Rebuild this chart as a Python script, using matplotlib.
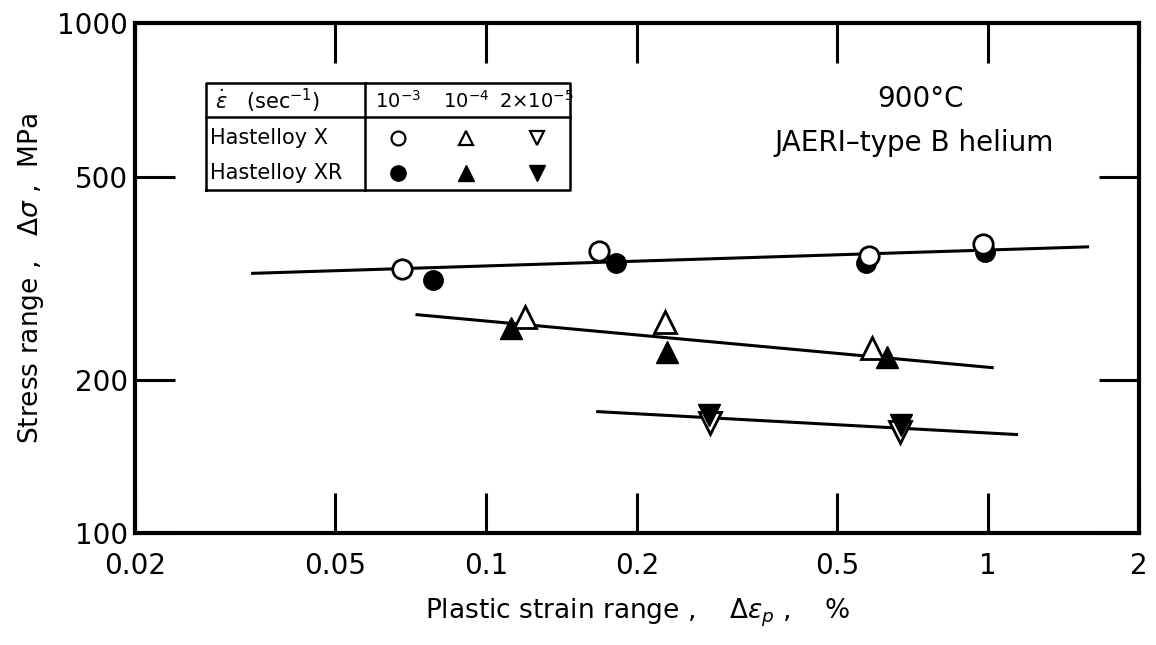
import numpy as np
import matplotlib.pyplot as plt
from matplotlib.ticker import FixedLocator, FixedFormatter, NullLocator

# Hastelloy X (open) and Hastelloy XR (filled), plastic strain range % vs stress range MPa
x_open_circ = [0.068, 0.168, 0.580, 0.977]
y_open_circ = [329, 358, 350, 369]
x_fill_circ = [0.0785, 0.182, 0.572, 0.986]
y_fill_circ = [314, 339, 339, 356]

x_open_up = [0.1197, 0.227, 0.588]
y_open_up = [265, 259, 231]
x_fill_up = [0.112, 0.230, 0.630]
y_fill_up = [252, 226, 221]

x_open_dn = [0.279, 0.668]
y_open_dn = [164, 158]
x_fill_dn = [0.278, 0.672]
y_fill_dn = [170, 163]

# fitted lines (end points)
line1_x = [0.0343, 1.58]
line1_y = [323, 364]
line2_x = [0.0729, 1.02]
line2_y = [268, 211]
line3_x = [0.167, 1.14]
line3_y = [173, 156]

xticks = [0.02, 0.05, 0.1, 0.2, 0.5, 1, 2]
xlabels = ["0.02", "0.05", "0.1", "0.2", "0.5", "1", "2"]
yticks = [100, 200, 500, 1000]
ylabels = ["100", "200", "500", "1000"]

fig = plt.figure(figsize=(11.56, 6.45), dpi=100)
ax = fig.add_axes([0.1168, 0.1736, 0.8685, 0.7907])
ax.set_xscale("log")
ax.set_yscale("log")
ax.set_xlim(0.02, 2)
ax.set_ylim(100, 1000)

for lx, ly in [(line1_x, line1_y), (line2_x, line2_y), (line3_x, line3_y)]:
    ax.plot(lx, ly, color="k", lw=2.2, zorder=2)

ms_c = 14
ms_t = 16
ax.plot(x_fill_circ, y_fill_circ, "o", ms=ms_c, mfc="k", mec="k", zorder=3)
ax.plot(x_open_circ, y_open_circ, "o", ms=ms_c, mfc="white", mec="k", mew=2, zorder=4)
ax.plot(x_fill_up, y_fill_up, "^", ms=ms_t, mfc="k", mec="k", zorder=3)
ax.plot(x_open_up, y_open_up, "^", ms=ms_t, mfc="white", mec="k", mew=2, zorder=4)
ax.plot(x_open_dn, y_open_dn, "v", ms=ms_t, mfc="white", mec="k", mew=2, zorder=3)
ax.plot(x_fill_dn, y_fill_dn, "v", ms=ms_t, mfc="k", mec="k", zorder=4)

for s in ax.spines.values():
    s.set_linewidth(3)

ax.xaxis.set_major_locator(FixedLocator(xticks))
ax.xaxis.set_major_formatter(FixedFormatter(xlabels))
ax.xaxis.set_minor_locator(NullLocator())
ax.yaxis.set_major_locator(FixedLocator(yticks))
ax.yaxis.set_major_formatter(FixedFormatter(ylabels))
ax.yaxis.set_minor_locator(NullLocator())
ax.tick_params(which="major", direction="in", length=29, width=2.2,
               top=True, right=True, labelsize=20)
ax.tick_params(axis="x", pad=14)
ax.tick_params(axis="y", pad=5)

ax.set_xlabel(r"Plastic strain range ,    $\Delta\varepsilon_p$ ,    %", fontsize=19, labelpad=12)
ax.set_ylabel(r"Stress range ,   $\Delta\sigma$ ,  MPa", fontsize=19, labelpad=8)

ax.text(0.782, 0.851, "900°C", transform=ax.transAxes, fontsize=20, ha="center", va="center")
ax.text(0.776, 0.765, "JAERI–type B helium", transform=ax.transAxes, fontsize=20, ha="center", va="center")

# legend table
tx0, tx1, tdiv = 0.0707, 0.433, 0.229
ty0, ty1, thead = 0.673, 0.882, 0.816
tr = ax.transAxes
ax.plot([tx0, tx1, tx1, tx0, tx0], [ty0, ty0, ty1, ty1, ty0], color="k", lw=1.8, transform=tr)
ax.plot([tx0, tx1], [thead, thead], color="k", lw=1.8, transform=tr)
ax.plot([tdiv, tdiv], [ty0, ty1], color="k", lw=1.8, transform=tr)

col_x = [0.262, 0.330, 0.400]
row_y = [0.847, 0.775, 0.706]
ax.text(0.080, row_y[0], r"$\dot{\varepsilon}$   (sec$^{-1}$)", transform=tr, fontsize=15, va="center")
for cx, lab in zip(col_x, [r"10$^{-3}$", r"10$^{-4}$", r"2×10$^{-5}$"]):
    ax.text(cx, row_y[0], lab, transform=tr, fontsize=14, ha="center", va="center")
ax.text(0.075, row_y[1], "Hastelloy X", transform=tr, fontsize=15, va="center")
ax.text(0.075, row_y[2], "Hastelloy XR", transform=tr, fontsize=15, va="center")
for cx, m in zip(col_x, ["o", "^", "v"]):
    ax.plot([cx], [row_y[1]], m, ms=10, mfc="white", mec="k", mew=1.6, transform=tr)
    ax.plot([cx], [row_y[2]], m, ms=11, mfc="k", mec="k", transform=tr)

fig.savefig("out.png", dpi=100)
